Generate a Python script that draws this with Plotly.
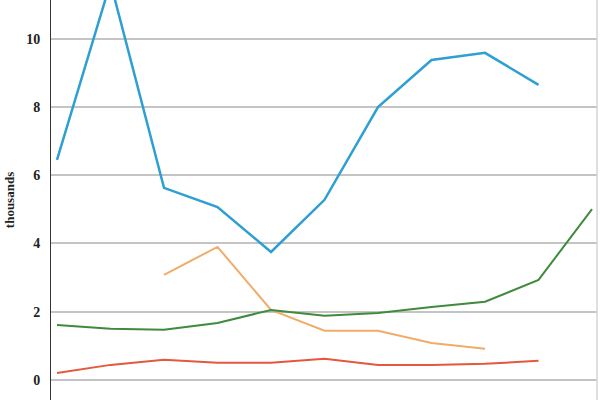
import plotly.graph_objects as go

x_idx = list(range(11))
blue = [6.45, 11.65, 5.63, 5.07, 3.75, 5.28, 8.0, 9.38, 9.59, 8.65, None]
green = [1.61, 1.5, 1.47, 1.67, 2.05, 1.88, 1.96, 2.14, 2.29, 2.93, 5.01]
orange = [None, None, 3.08, 3.9, 2.05, 1.44, 1.44, 1.08, 0.91, None, None]
red = [0.2, 0.44, 0.59, 0.5, 0.5, 0.62, 0.44, 0.44, 0.47, 0.56, None]
y_ticks = [0, 2, 4, 6, 8, 10]

fig = go.Figure()
for vals, col, w in [(red, "#e4583c", 2), (orange, "#f0ac68", 2),
                     (green, "#3f8a3c", 2), (blue, "#2e9fd2", 2.5)]:
    fig.add_trace(go.Scatter(x=x_idx, y=vals, mode="lines",
                             line=dict(color=col, width=w),
                             connectgaps=False, showlegend=False))

fig.update_layout(
    width=600, height=400,
    margin=dict(l=51, r=3, t=0, b=0, pad=0, autoexpand=False),
    paper_bgcolor="white", plot_bgcolor="white",
    xaxis=dict(range=[-0.112, 10.093], showgrid=False, showticklabels=False,
               zeroline=False, showline=False, automargin=False),
    yaxis=dict(range=[-0.59, 11.14], tickvals=y_ticks, automargin=False,
               showgrid=True, gridcolor="#c4c4c4", gridwidth=2,
               zeroline=False, showline=True, linecolor="#333333", linewidth=1,
               ticks="", ticklabelstandoff=7,
               tickfont=dict(family="Liberation Serif", size=14, color="#222222", weight="bold"),
               title=dict(text="thousands", standoff=8,
                          font=dict(family="Liberation Serif", size=13, color="#222222", weight="bold"))),
    shapes=[dict(type="line", xref="paper", yref="paper", x0=1, x1=1, y0=0, y1=1,
                 line=dict(color="#d4d4d4", width=1.5))],
)

fig.write_html("out.html", config={"displayModeBar": False},
               post_script="document.body.style.margin='0';document.body.style.overflow='hidden';")
